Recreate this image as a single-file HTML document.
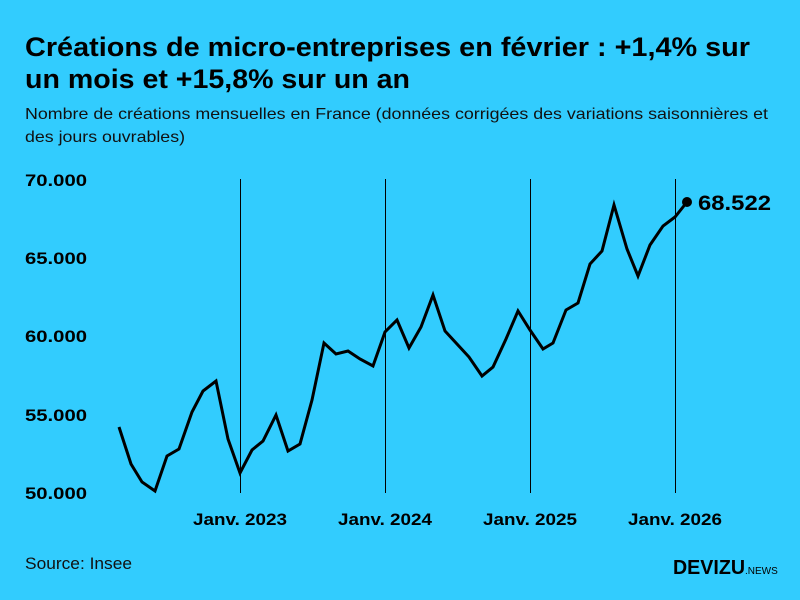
<!DOCTYPE html>
<html><head><meta charset="utf-8"><style>
html,body{margin:0;padding:0;background:#32ccfe;}
svg{display:block;font-family:"Liberation Sans",sans-serif;}
</style></head><body>
<svg width="800" height="600" viewBox="0 0 800 600">
<rect width="800" height="600" fill="#32ccfe"/>
<text x="25" y="56" font-size="27" font-weight="bold" fill="#000" textLength="725" lengthAdjust="spacingAndGlyphs">Créations de micro-entreprises en février : +1,4% sur</text>
<text x="25" y="88" font-size="27" font-weight="bold" fill="#000" textLength="385" lengthAdjust="spacingAndGlyphs">un mois et +15,8% sur un an</text>
<text x="25" y="119" font-size="16" fill="#111" textLength="743" lengthAdjust="spacingAndGlyphs">Nombre de créations mensuelles en France (données corrigées des variations saisonnières et</text>
<text x="25" y="142" font-size="16" fill="#111" textLength="160" lengthAdjust="spacingAndGlyphs">des jours ouvrables)</text>
<g font-size="17" font-weight="bold" fill="#000">
<text x="25" y="186" textLength="62" lengthAdjust="spacingAndGlyphs">70.000</text>
<text x="25" y="264" textLength="62" lengthAdjust="spacingAndGlyphs">65.000</text>
<text x="25" y="342" textLength="62" lengthAdjust="spacingAndGlyphs">60.000</text>
<text x="25" y="421" textLength="62" lengthAdjust="spacingAndGlyphs">55.000</text>
<text x="25" y="499" textLength="62" lengthAdjust="spacingAndGlyphs">50.000</text>
</g>
<g stroke="#000" stroke-width="1">
<line x1="240.5" y1="179" x2="240.5" y2="493"/>
<line x1="385.5" y1="179" x2="385.5" y2="493"/>
<line x1="530.5" y1="179" x2="530.5" y2="493"/>
<line x1="675.5" y1="179" x2="675.5" y2="493"/>
</g>
<g font-size="17" font-weight="bold" fill="#000">
<text x="193" y="525" textLength="94" lengthAdjust="spacingAndGlyphs">Janv. 2023</text>
<text x="338" y="525" textLength="94" lengthAdjust="spacingAndGlyphs">Janv. 2024</text>
<text x="483" y="525" textLength="94" lengthAdjust="spacingAndGlyphs">Janv. 2025</text>
<text x="628" y="525" textLength="94" lengthAdjust="spacingAndGlyphs">Janv. 2026</text>
</g>
<polyline fill="none" stroke="#000" stroke-width="3" stroke-linejoin="miter" points="119,427 131,464 142,482 155,491 167,456 179,449 192,412 203,391 216,381 228,439 240,473 252,450 263,441 276,415 288,451 300,444 312,400 324,343 336,354 348,351 360,359 373,366 385,332 397,320 409,348 421,327 433,295 445,331 457,344 469,357 482,376 493,367 506,339 518,311 530,330 543,349 553,343 566,310 578,303 590,264 602,251 614,205 627,249 638,276 650,245 663,226 675,217 687,202"/>
<circle cx="687" cy="202" r="5" fill="#000"/>
<text x="698" y="210" font-size="21" font-weight="bold" fill="#000" textLength="73" lengthAdjust="spacingAndGlyphs">68.522</text>
<text x="25" y="569" font-size="17" fill="#111" textLength="107" lengthAdjust="spacingAndGlyphs">Source: Insee</text>
<text x="673" y="574" font-size="20" font-weight="bold" fill="#000" textLength="72" lengthAdjust="spacingAndGlyphs">DEVIZU</text>
<text x="745" y="574" font-size="10" fill="#000">.NEWS</text>
</svg>
</body></html>
